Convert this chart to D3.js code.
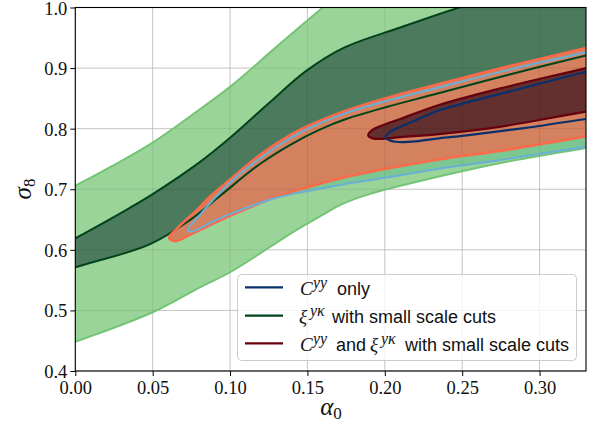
<!DOCTYPE html>
<html>
<head>
<meta charset="utf-8">
<script src="https://cdn.jsdelivr.net/npm/d3@7"></script>
<style>
  body { margin: 0; background: #ffffff; }
  svg { display: block; }
</style>
</head>
<body>
<svg id="chart" width="595" height="425"></svg>
<script>
// ---- axes ----
const alphaDomain = [0, 0.33];
const sigmaDomain = [0.4, 1.0];
const alphaTicks = [0, 0.05, 0.10, 0.15, 0.20, 0.25, 0.30];
const alphaTickLabels = ["0.00", "0.05", "0.10", "0.15", "0.20", "0.25", "0.30"];
const sigmaTicks = [0.4, 0.5, 0.6, 0.7, 0.8, 0.9, 1.0];
const sigmaTickLabels = ["0.4", "0.5", "0.6", "0.7", "0.8", "0.9", "1.0"];

// ---- contour edges, points are [alpha0, sigma8] ----
// xi^{y kappa} with small scale cuts: 2-sigma band
const xiOuterUpper = [[-0.03, 0.672], [0.000, 0.706], [0.025, 0.740], [0.050, 0.777], [0.0805, 0.832],
  [0.100, 0.869], [0.130, 0.935], [0.160, 1.000], [0.190, 1.060], [0.250, 1.150], [0.360, 1.250]];
const xiOuterLower = [[-0.03, 0.420], [0.000, 0.448], [0.050, 0.497], [0.0805, 0.538], [0.100, 0.563],
  [0.143, 0.633], [0.160, 0.658], [0.172, 0.675], [0.190, 0.692], [0.235, 0.721], [0.274, 0.743],
  [0.330, 0.768], [0.360, 0.780]];
// xi^{y kappa} with small scale cuts: 1-sigma band
const xiInnerUpper = [[-0.03, 0.578], [0.000, 0.619], [0.035, 0.669], [0.050, 0.692], [0.080, 0.744],
  [0.100, 0.785], [0.125, 0.842], [0.149, 0.895], [0.173, 0.933], [0.210, 0.967], [0.248, 1.000],
  [0.300, 1.040], [0.360, 1.085]];
const xiInnerLower = [[-0.03, 0.545], [0.000, 0.571], [0.048, 0.609], [0.074, 0.649], [0.094, 0.690],
  [0.120, 0.743], [0.145, 0.782], [0.162, 0.803], [0.175, 0.816], [0.200, 0.835], [0.231, 0.856],
  [0.280, 0.889], [0.330, 0.921], [0.360, 0.940]];
// C^{yy} only: 2-sigma and 1-sigma
const cyyOuterUpper = [[0.0729, 0.633], [0.080, 0.656], [0.100, 0.711], [0.121, 0.754], [0.145, 0.793],
  [0.173, 0.824], [0.200, 0.845], [0.235, 0.868], [0.280, 0.897], [0.330, 0.926], [0.400, 0.967]];
const cyyOuterLower = [[0.075, 0.630], [0.090, 0.648], [0.100, 0.659], [0.130, 0.686], [0.150, 0.697],
  [0.173, 0.708], [0.200, 0.719], [0.235, 0.734], [0.274, 0.748], [0.330, 0.770], [0.400, 0.796]];
const cyyInnerUpper = [[0.2005, 0.786], [0.203, 0.794], [0.209, 0.802], [0.220, 0.814], [0.235, 0.830],
  [0.274, 0.857], [0.330, 0.894], [0.400, 0.937]];
const cyyInnerLower = [[0.203, 0.781], [0.209, 0.778], [0.220, 0.779], [0.235, 0.784], [0.253, 0.789],
  [0.290, 0.801], [0.330, 0.816], [0.400, 0.843]];
// C^{yy} and xi^{y kappa} with small scale cuts: 2-sigma and 1-sigma
const jointOuterUpper = [[0.0606, 0.620], [0.066, 0.636], [0.0786, 0.666], [0.087, 0.688], [0.100, 0.716],
  [0.121, 0.760], [0.145, 0.798], [0.173, 0.828], [0.200, 0.850], [0.235, 0.874], [0.280, 0.903],
  [0.330, 0.933], [0.400, 0.975]];
const jointOuterLower = [[0.064, 0.614], [0.075, 0.626], [0.100, 0.656], [0.132, 0.689], [0.150, 0.703],
  [0.173, 0.719], [0.235, 0.749], [0.274, 0.763], [0.330, 0.787], [0.400, 0.815]];
const jointInnerUpper = [[0.1893, 0.789], [0.192, 0.798], [0.200, 0.807], [0.210, 0.816], [0.235, 0.839],
  [0.274, 0.866], [0.330, 0.900], [0.400, 0.942]];
const jointInnerLower = [[0.192, 0.784], [0.200, 0.7835], [0.210, 0.786], [0.235, 0.791], [0.274, 0.803],
  [0.330, 0.828], [0.400, 0.857]];

// ---- legend entries: [text, kind, left edge] ----
const legendLabels = [
  [["C", "math", 300], ["yy", "sup", 313], ["only", "text", 337]],
  [["ξ", "math", 299], ["yκ", "sup", 310], ["with small scale cuts", "text", 332]],
  [["C", "math", 300], ["yy", "sup", 313], ["and", "text", 336], ["ξ", "math", 370],
   ["yκ", "sup", 381], ["with small scale cuts", "text", 405]]
];

// ---- colours ----
const colors = {
  xiOuterFill: "#9bd499", xiOuterEdge: "#74c476",
  xiInnerFill: "#4b7b5c", xiInnerEdge: "#00441b",
  cyyOuterFill: "#7cc691", cyyOuterEdge: "#6baed6", cyyInnerEdge: "#08306b",
  jointOuterFill: "#d3815f", jointOuterEdge: "#fb6a4a",
  jointInnerFill: "#64302f", jointInnerEdge: "#67000d"
};
const legendColors = [colors.cyyInnerEdge, colors.xiInnerEdge, colors.jointInnerEdge];

// ---- layout ----
const margin = { left: 75.3, top: 7.5 };
const width = 510.7, height = 363.5;

const svg = d3.select("#chart");
const g = svg.append("g").attr("transform", `translate(${margin.left},${margin.top})`);

const x = d3.scaleLinear().domain(alphaDomain).range([0, width]);
const y = d3.scaleLinear().domain(sigmaDomain).range([height, 0]);

svg.append("defs").append("clipPath").attr("id", "plot-clip")
  .append("rect").attr("x", 0).attr("y", 0).attr("width", width).attr("height", height);

// grid beneath the contours
const gridUnder = g.append("g");
function drawGrid(sel, stroke, opacity) {
  sel.selectAll("line.gx").data(alphaTicks).join("line").attr("class", "gx")
    .attr("x1", d => x(d)).attr("x2", d => x(d)).attr("y1", 0).attr("y2", height)
    .attr("stroke", stroke).attr("stroke-opacity", opacity).attr("stroke-width", 1);
  sel.selectAll("line.gy").data(sigmaTicks).join("line").attr("class", "gy")
    .attr("y1", d => y(d)).attr("y2", d => y(d)).attr("x1", 0).attr("x2", width)
    .attr("stroke", stroke).attr("stroke-opacity", opacity).attr("stroke-width", 1);
}
drawGrid(gridUnder, "#d6d6d6", 1);

const plot = g.append("g").attr("clip-path", "url(#plot-clip)");

const openLine = d3.line().x(d => x(d[0])).y(d => y(d[1])).curve(d3.curveCatmullRom.alpha(0.5));
const ringLine = d3.line().x(d => x(d[0])).y(d => y(d[1])).curve(d3.curveCatmullRomClosed.alpha(0.5));

// band between two open edges (closed outside the plotting area)
function bandPath(upper, lower) {
  return openLine(upper) + openLine(lower.slice().reverse()).replace(/^M/, "L") + "Z";
}
// closed contour with a rounded tip on the left
function ringPath(upper, lower) {
  return ringLine(upper.concat(lower.slice().reverse()));
}

const xiOuterPath = bandPath(xiOuterUpper, xiOuterLower);
const xiInnerPath = bandPath(xiInnerUpper, xiInnerLower);
const cyyOuterPath = ringPath(cyyOuterUpper, cyyOuterLower);
const cyyInnerPath = ringPath(cyyInnerUpper, cyyInnerLower);
const jointOuterPath = ringPath(jointOuterUpper, jointOuterLower);
const jointInnerPath = ringPath(jointInnerUpper, jointInnerLower);

// fills
plot.append("path").attr("d", xiOuterPath).attr("fill", colors.xiOuterFill);
plot.append("path").attr("d", xiInnerPath).attr("fill", colors.xiInnerFill);
plot.append("path").attr("d", cyyOuterPath).attr("fill", colors.cyyOuterFill);
plot.append("path").attr("d", jointOuterPath).attr("fill", colors.jointOuterFill);
plot.append("path").attr("d", jointInnerPath).attr("fill", colors.jointInnerFill);

// grid showing faintly through the filled regions
const gridOver = plot.append("g");
drawGrid(gridOver, "#000000", 0.08);

// contour outlines
const edges = [
  [xiOuterPath, colors.xiOuterEdge, 2],
  [xiInnerPath, colors.xiInnerEdge, 2],
  [jointOuterPath, colors.jointOuterEdge, 2.5],
  [cyyOuterPath, colors.cyyOuterEdge, 2],
  [jointInnerPath, colors.jointInnerEdge, 2.2],
  [cyyInnerPath, colors.cyyInnerEdge, 2.2]
];
edges.forEach(([d, c, w]) => {
  plot.append("path").attr("d", d).attr("fill", "none").attr("stroke", c)
    .attr("stroke-width", w).attr("stroke-linejoin", "round");
});

// frame
g.append("rect").attr("x", 0).attr("y", 0).attr("width", width).attr("height", height)
  .attr("fill", "none").attr("stroke", "#000").attr("stroke-width", 1.1);

// axes
const tickFont = "'Liberation Serif', 'Times New Roman', serif";
const xAxis = d3.axisBottom(x).tickValues(alphaTicks)
  .tickFormat((d, i) => alphaTickLabels[i]).tickSize(5).tickPadding(5);
const yAxis = d3.axisLeft(y).tickValues(sigmaTicks)
  .tickFormat((d, i) => sigmaTickLabels[i]).tickSize(5).tickPadding(3);

const gx = g.append("g").attr("transform", `translate(0,${height})`).call(xAxis);
const gy = g.append("g").call(yAxis);
[gx, gy].forEach(a => {
  a.select(".domain").remove();
  a.selectAll(".tick line").attr("stroke", "#000").attr("stroke-width", 1);
  a.selectAll(".tick text").attr("font-family", tickFont).attr("font-size", 18.5).attr("fill", "#111");
});
gy.selectAll(".tick text").attr("dy", 6.5);

// axis titles
const xTitle = svg.append("text").attr("x", 331).attr("y", 415)
  .attr("text-anchor", "middle").attr("font-family", tickFont).attr("font-size", 25).attr("fill", "#111");
xTitle.append("tspan").attr("font-style", "italic").text("α");
xTitle.append("tspan").attr("font-size", 17).attr("dy", 4).text("0");

const yTitle = svg.append("text").attr("transform", "translate(31,189) rotate(-90)")
  .attr("text-anchor", "middle").attr("font-family", tickFont).attr("font-size", 25).attr("fill", "#111");
yTitle.append("tspan").attr("font-style", "italic").text("σ");
yTitle.append("tspan").attr("font-size", 17).attr("dy", 4).text("8");

// legend
const legend = svg.append("g");
legend.append("rect").attr("x", 237.5).attr("y", 274.5).attr("width", 339).attr("height", 86).attr("rx", 4)
  .attr("fill", "#ffffff").attr("fill-opacity", 0.8).attr("stroke", "#cccccc").attr("stroke-width", 1);
const rowY = [287.3, 315.7, 343.3];
const sansFont = "'Liberation Sans', Arial, sans-serif";
legendLabels.forEach((parts, i) => {
  legend.append("line").attr("x1", 245).attr("x2", 283).attr("y1", rowY[i]).attr("y2", rowY[i])
    .attr("stroke", legendColors[i]).attr("stroke-width", 2.2);
  const t = legend.append("text").attr("y", rowY[i] + 7.5).attr("fill", "#111");
  parts.forEach(([s, kind, px]) => {
    const sp = t.append("tspan").text(s).attr("x", px).attr("y", rowY[i] + 7.5);
    if (kind === "math") {
      sp.attr("font-family", tickFont).attr("font-style", "italic").attr("font-size", 19);
    } else if (kind === "sup") {
      sp.attr("font-family", tickFont).attr("font-style", "italic").attr("font-size", 16)
        .attr("y", rowY[i] + 0.5);
    } else {
      sp.attr("font-family", sansFont).attr("font-size", 18);
    }
  });
});
</script>
</body>
</html>
